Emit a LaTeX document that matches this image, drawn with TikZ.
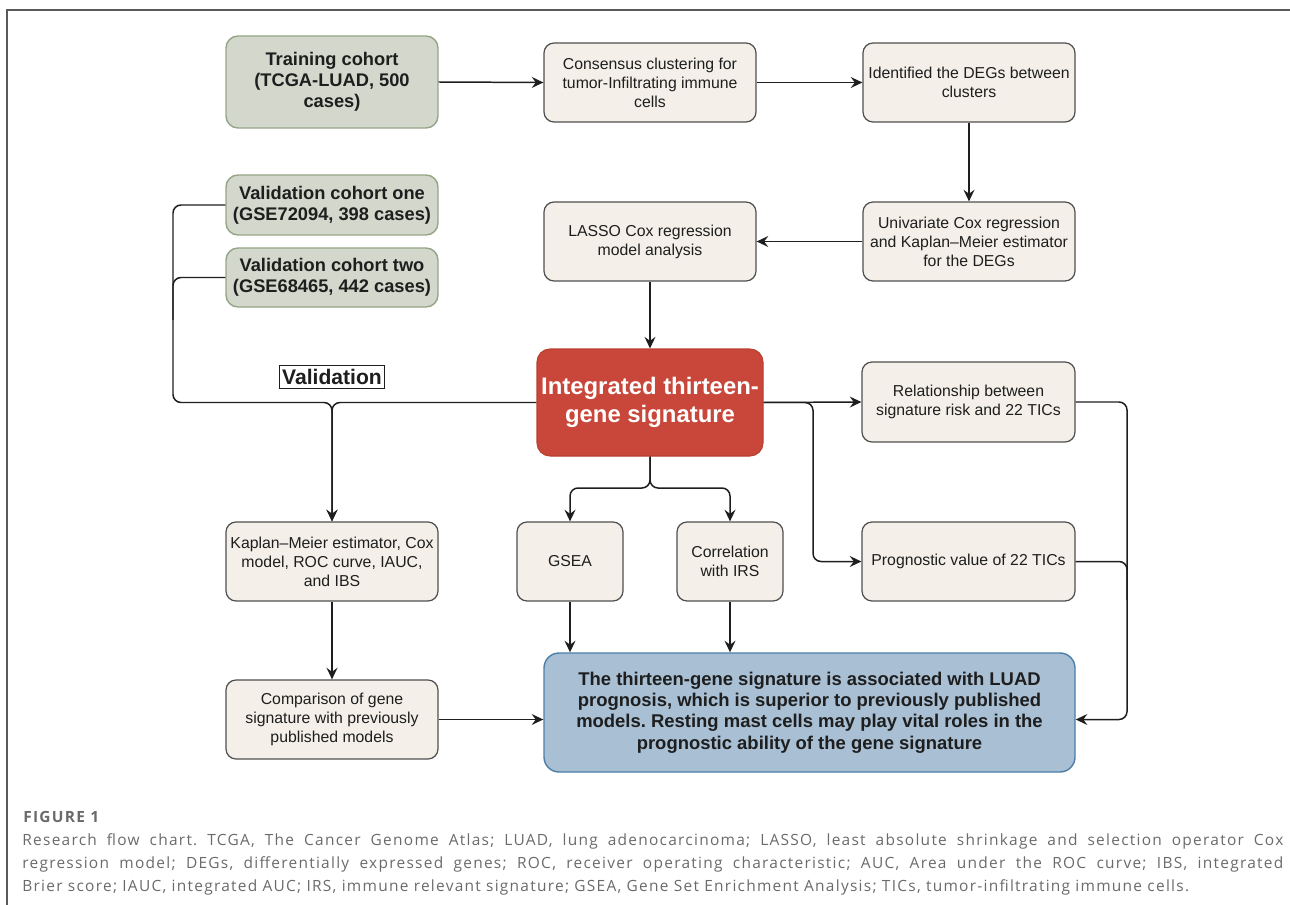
\documentclass[tikz,border=0pt]{standalone}
\usepackage{fontspec}
\setmainfont{Liberation Sans}
\newfontfamily\capfont[LetterSpace=8.2]{Open Sans}
\usetikzlibrary{arrows.meta}
\newdimen\pxu \pxu=0.02cm
\definecolor{greenfill}{HTML}{D3D7CC}
\definecolor{greenline}{HTML}{95A585}
\definecolor{beigefill}{HTML}{F4F0E9}
\definecolor{boxline}{HTML}{4F4F4F}
\definecolor{redfill}{HTML}{C8473A}
\definecolor{redline}{HTML}{B8402F}
\definecolor{bluefill}{HTML}{A8BFD4}
\definecolor{blueline}{HTML}{4C7EA8}
\definecolor{ink}{HTML}{1E1E1E}
\definecolor{capgray}{HTML}{6A6A6A}
\definecolor{framegray}{HTML}{5A5A5A}
\tikzset{
  greenbox/.style={draw=greenline, fill=greenfill, line width=0.8pt, rounded corners=0.24cm,
    align=center, text=ink, font=\fontsize{10.4}{12}\selectfont\bfseries,
    minimum width=212\pxu, inner sep=0pt},
  beigebox/.style={draw=boxline, fill=beigefill, line width=0.7pt, rounded corners=0.2cm,
    align=center, text=ink, font=\fontsize{9}{10.8}\selectfont,
    minimum width=212\pxu, minimum height=79\pxu, inner sep=0pt},
  redbox/.style={draw=redline, fill=redfill, line width=0.6pt, rounded corners=0.26cm,
    align=center, text=white, font=\fontsize{13.6}{15.6}\selectfont\bfseries,
    minimum width=226\pxu, minimum height=107\pxu, inner sep=0pt},
  bluebox/.style={draw=blueline, fill=bluefill, line width=0.8pt, rounded corners=0.3cm,
    align=center, text=ink, font=\fontsize{10.5}{12.1}\selectfont\bfseries,
    minimum width=531\pxu, minimum height=119\pxu, inner sep=0pt},
  labelbox/.style={draw=ink, line width=0.7pt, fill=white, text=ink,
    font=\fontsize{12}{14}\selectfont\bfseries, inner xsep=1.5pt, inner ysep=2pt},
  conn/.style={draw=ink, line width=0.85pt, rounded corners=0.16cm},
  arr/.style={conn, -{Stealth[length=6.6pt, width=6.2pt, inset=2.3pt]}},
  captext/.style={anchor=base west, inner sep=0pt, text=capgray,
    font=\capfont\fontsize{8.8}{10}\selectfont},
}
\begin{document}
\frenchspacing
\begin{tikzpicture}[x=0.02cm, y=-0.02cm]
\useasboundingbox (0,0) rectangle (1290,905);
% frame
\draw[framegray, line width=0.9pt] (1290,10) -- (7,10) -- (7,905);

% left column
\node[greenbox, minimum height=92\pxu] (train) at (332,82) {Training cohort\\(TCGA-LUAD, 500\\cases)};
\node[greenbox, minimum height=60\pxu] (v1) at (332,205) {Validation cohort one\\(GSE72094, 398 cases)};
\node[greenbox, minimum height=59\pxu] (v2) at (332,277.5) {Validation cohort two\\(GSE68465, 442 cases)};
\node[labelbox] (vlab) at (332,377) {Validation};
\node[beigebox] (km) at (332,561.5) {Kaplan--Meier estimator, Cox\\model, ROC curve, IAUC,\\and IBS};
\node[beigebox] (comp) at (332,719.5) {Comparison of gene\\signature with previously\\published models};

% upper chain
\node[beigebox] (cons) at (650,82.5) {Consensus clustering for\\tumor-Infiltrating immune\\cells};
\node[beigebox] (ident) at (969,82.5) {Identified the DEGs between\\clusters};
\node[beigebox] (univ) at (969,241.5) {Univariate Cox regression\\and Kaplan--Meier estimator\\for the DEGs};
\node[beigebox] (lasso) at (650,241.5) {LASSO Cox regression\\model analysis};

% centre
\node[redbox] (red) at (650,402.5) {Integrated thirteen-\\gene signature};
\node[beigebox, minimum width=106\pxu] (gsea) at (570,561.5) {GSEA};
\node[beigebox, minimum width=106\pxu] (corr) at (730,561.5) {Correlation\\with IRS};
\node[beigebox, minimum width=213\pxu, minimum height=80\pxu] (rel) at (968.5,402) {Relationship between\\signature risk and 22 TICs};
\node[beigebox, minimum width=213\pxu] (prog) at (968.5,561.5) {Prognostic value of 22 TICs};
\node[bluebox] (res) at (809.5,712.5) {The thirteen-gene signature is associated with LUAD\\prognosis, which is superior to previously published\\models. Resting mast cells may play vital roles in the\\prognostic ability of the gene signature};

% junction coordinates
\coordinate (vj) at (332,402.5);
\coordinate (lx1) at (173,205);
\coordinate (lx2) at (173,277.5);
\coordinate (lbot) at (173,402.5);
\coordinate (rj) at (813,402.5);
\coordinate (rjb) at (813,561.5);
\coordinate (sj) at (650,488);
\coordinate (sjl) at (570,488);
\coordinate (sjr) at (730,488);
\coordinate (ex1) at (1127,402);
\coordinate (ex2) at (1127,561.5);
\coordinate (ex3) at (1127,719.5);
\coordinate (ex2b) at (1127,600);
\coordinate (lx2b) at (173,320);

% connectors
\draw[arr] (train.east) -- (cons.west);
\draw[arr] (cons.east) -- (ident.west);
\draw[arr] (ident.south) -- (univ.north);
\draw[arr] (univ.west) -- (lasso.east);
\draw[arr] (lasso.south) -- (red.north);

\draw[arr] (v1.west) -- (lx1) -- (lbot) -- (vj) -- (km.north);
\draw[conn] (v2.west) -- (lx2) -- (lx2b);
\draw[arr] (red.west) -- (vj) -- (km.north);

\draw[arr] (red.east) -- (rel.west);
\draw[arr] (red.east) -- (rj) -- (rjb) -- (prog.west);

\draw[arr] (red.south) -- (sj) -- (sjl) -- (gsea.north);
\draw[arr] (red.south) -- (sj) -- (sjr) -- (corr.north);
\draw[arr] (gsea.south) -- (gsea.south |- res.north);
\draw[arr] (corr.south) -- (corr.south |- res.north);

\draw[arr] (km.south) -- (comp.north);
\draw[arr] (comp.east) -- (comp.east -| res.west);

\draw[arr] (rel.east) -- (ex1) -- (ex3) -- (ex3 -| res.east);
\draw[conn] (prog.east) -- (ex2) -- (ex2b);

% caption
\node[captext, font=\capfont\bfseries\fontsize{8.8}{10}\selectfont] (fig) at (23,822) {FIGURE 1};
\node[captext] (cap1) at (22,845) {\makebox[1261\pxu][s]{Research flow chart. TCGA, The Cancer Genome Atlas; LUAD, lung adenocarcinoma; LASSO, least absolute shrinkage and selection operator Cox}};
\node[captext] (cap2) at (22,868) {\makebox[1261\pxu][s]{regression model; DEGs, differentially expressed genes; ROC, receiver operating characteristic; AUC, Area under the ROC curve; IBS, integrated}};
\node[captext] (cap3) at (22,891) {Brier score; IAUC, integrated AUC; IRS, immune relevant signature; GSEA, Gene Set Enrichment Analysis; TICs, tumor-infiltrating immune cells.};
\end{tikzpicture}
\end{document}
